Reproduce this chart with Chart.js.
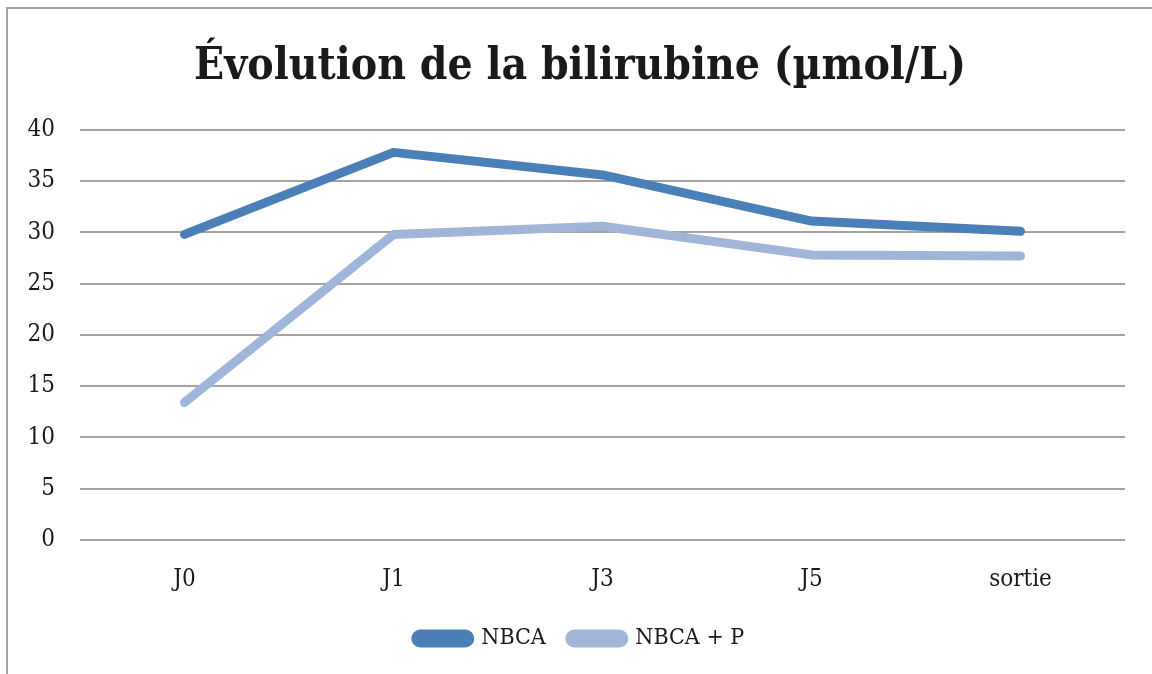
<!DOCTYPE html>
<html>
<head>
<meta charset="utf-8">
<script src="https://cdn.jsdelivr.net/npm/chart.js@4"></script>
<style>
    body { margin: 0; background: #fff; }
    #frame {
        position: absolute; left: 6px; top: 7px;
        width: 1200px; height: 720px;
        border: 2px solid #a3a3a3;
    }
    #wrap { position: absolute; left: 8px; top: 9px; width: 1144px; height: 665px; }
</style>
</head>
<body>
<div id="frame"></div>
<div id="wrap"><canvas id="bilirubinChart" width="1144" height="665"></canvas></div>
<script>
const days = ["J0", "J1", "J3", "J5", "sortie"];
const nbca = [29.8, 37.8, 35.6, 31.1, 30.1];
const nbcaP = [13.4, 29.8, 30.6, 27.8, 27.7];
const yTicks = [0, 5, 10, 15, 20, 25, 30, 35, 40];

const serif = "'DejaVu Serif Condensed', 'DejaVu Serif', serif";

const ctx = document.getElementById('bilirubinChart').getContext('2d');
const myChart = new Chart(ctx, {
    type: 'line',
    data: {
        labels: days,
        datasets: [{
            label: 'NBCA',
            data: nbca,
            borderColor: '#4a7fb8',
            backgroundColor: '#4a7fb8',
            borderWidth: 9,
            borderCapStyle: 'round',
            borderJoinStyle: 'round',
            pointRadius: 0,
            tension: 0
        }, {
            label: 'NBCA + P',
            data: nbcaP,
            borderColor: '#a0b5d8',
            backgroundColor: '#a0b5d8',
            borderWidth: 9,
            borderCapStyle: 'round',
            borderJoinStyle: 'round',
            pointRadius: 0,
            tension: 0
        }]
    },
    options: {
        responsive: false,
        animation: false,
        layout: { padding: { left: 0, right: 0, top: 0, bottom: 14 } },
        plugins: {
            title: {
                display: true,
                text: 'Évolution de la bilirubine (µmol/L)',
                color: '#1a1a1a',
                font: { family: serif, size: 44, weight: 'bold' },
                padding: { top: 32, bottom: 36 }
            },
            legend: {
                position: 'bottom',
                labels: {
                    color: '#1a1a1a',
                    font: { family: serif, size: 23 },
                    boxWidth: 54,
                    boxHeight: 9,
                    useBorderRadius: true,
                    borderRadius: 4.5,
                    padding: 24
                }
            },
            tooltip: { enabled: false }
        },
        scales: {
            x: {
                offset: true,
                grid: { display: false },
                border: { display: false },
                ticks: { color: '#1a1a1a', font: { family: serif, size: 24 }, padding: 17 },
                afterFit: function(scale) { scale.height = 63; }
            },
            y: {
                min: 0,
                max: 40,
                afterBuildTicks: function(scale) {
                    scale.ticks = yTicks.map(v => ({ value: v }));
                },
                grid: { color: '#a3a3a3', lineWidth: 2, drawTicks: false },
                border: { display: false },
                ticks: { color: '#1a1a1a', font: { family: serif, size: 24 }, padding: 25 },
                afterFit: function(scale) { scale.width = 72; }
            },
            yRight: {
                position: 'right',
                grid: { display: false },
                border: { display: false },
                ticks: { display: false },
                afterFit: function(scale) { scale.width = 27; }
            }
        }
    }
});
</script>
</body>
</html>
